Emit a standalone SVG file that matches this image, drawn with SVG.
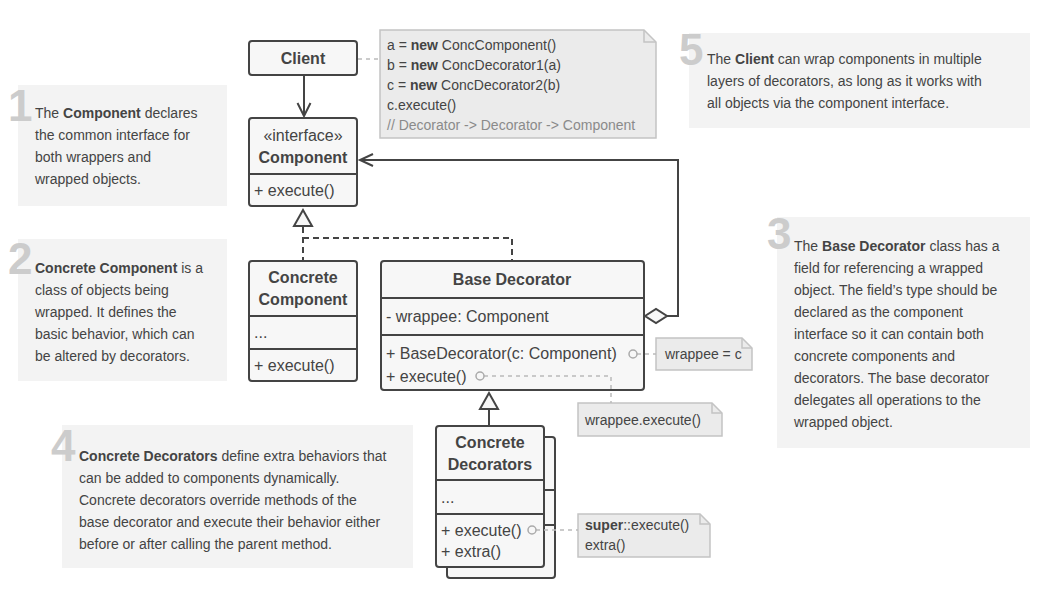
<svg xmlns="http://www.w3.org/2000/svg" width="1053" height="609" viewBox="0 0 1053 609">
<style>
text{font-family:"Liberation Sans",Arial,sans-serif;fill:#444}
.t{font-size:14px}
.u{font-size:16px}
.b{font-weight:bold}
.c{text-anchor:middle}
.num{font-size:44px;font-weight:bold;fill:#cccccc}
.panel{fill:#f3f3f3}
.box{fill:#f7f7f7;stroke:#444;stroke-width:2}
.ln{stroke:#444;stroke-width:2;fill:none}
.dash{stroke:#444;stroke-width:2;fill:none;stroke-dasharray:6 4}
.note{fill:#ebebeb;stroke:#c4c4c4;stroke-width:1.5}
.fold{fill:none;stroke:#c4c4c4;stroke-width:1.5}
.nd{stroke:#bbb;stroke-width:1.5;fill:none;stroke-dasharray:4 4}
.dot{fill:#f7f7f7;stroke:#aaa;stroke-width:1.5}
.code{font-size:14px;fill:#444}
</style>

<!-- explanation panels -->
<g id="panel1">
<rect class="panel" x="18" y="85" width="209" height="121"/>
<text class="num" x="8" y="121">1</text>
<text class="t" x="35" y="118">The <tspan class="b">Component</tspan> declares</text>
<text class="t" x="35" y="140">the common interface for</text>
<text class="t" x="35" y="162">both wrappers and</text>
<text class="t" x="35" y="184">wrapped objects.</text>
</g>
<g id="panel2">
<rect class="panel" x="18" y="239" width="209" height="142"/>
<text class="num" x="8" y="274">2</text>
<text class="t" x="35" y="273"><tspan class="b">Concrete Component</tspan> is a</text>
<text class="t" x="35" y="295">class of objects being</text>
<text class="t" x="35" y="317">wrapped. It defines the</text>
<text class="t" x="35" y="339">basic behavior, which can</text>
<text class="t" x="35" y="361">be altered by decorators.</text>
</g>
<g id="panel3">
<rect class="panel" x="777" y="217" width="253" height="231"/>
<text class="num" x="767" y="249">3</text>
<text class="t" x="794" y="251">The <tspan class="b">Base Decorator</tspan> class has a</text>
<text class="t" x="794" y="273">field for referencing a wrapped</text>
<text class="t" x="794" y="295">object. The field’s type should be</text>
<text class="t" x="794" y="317">declared as the component</text>
<text class="t" x="794" y="339">interface so it can contain both</text>
<text class="t" x="794" y="361">concrete components and</text>
<text class="t" x="794" y="383">decorators. The base decorator</text>
<text class="t" x="794" y="405">delegates all operations to the</text>
<text class="t" x="794" y="427">wrapped object.</text>
</g>
<g id="panel4">
<rect class="panel" x="62" y="425" width="351" height="143"/>
<text class="num" x="51" y="461">4</text>
<text class="t" x="79" y="461"><tspan class="b">Concrete Decorators</tspan> define extra behaviors that</text>
<text class="t" x="79" y="483">can be added to components dynamically.</text>
<text class="t" x="79" y="505">Concrete decorators override methods of the</text>
<text class="t" x="79" y="527">base decorator and execute their behavior either</text>
<text class="t" x="79" y="549">before or after calling the parent method.</text>
</g>
<g id="panel5">
<rect class="panel" x="689" y="33" width="341" height="95"/>
<text class="num" x="679" y="65">5</text>
<text class="t" x="707" y="64">The <tspan class="b">Client</tspan> can wrap components in multiple</text>
<text class="t" x="707" y="86">layers of decorators, as long as it works with</text>
<text class="t" x="707" y="108">all objects via the component interface.</text>
</g>

<!-- notes -->
<g id="note-code">
<path class="note" d="M380,30 H644 L656,42 V138 H380 Z"/>
<path class="fold" d="M644,30 V42 H656"/>
<text class="code" x="387" y="50">a = <tspan class="b">new</tspan> ConcComponent()</text>
<text class="code" x="387" y="70">b = <tspan class="b">new</tspan> ConcDecorator1(a)</text>
<text class="code" x="387" y="90">c = <tspan class="b">new</tspan> ConcDecorator2(b)</text>
<text class="code" x="387" y="110">c.execute()</text>
<text class="code" x="387" y="130" style="fill:#8a8a8a">// Decorator -&gt; Decorator -&gt; Component</text>
</g>
<g id="note-wrappee">
<path class="note" d="M656,338 H742 L752,348 V370 H656 Z"/>
<path class="fold" d="M742,338 V348 H752"/>
<text class="code" x="665" y="359">wrappee = c</text>
</g>
<g id="note-exec">
<path class="note" d="M578,403 H712 L722,413 V436 H578 Z"/>
<path class="fold" d="M712,403 V413 H722"/>
<text class="code" x="585" y="425">wrappee.execute()</text>
</g>
<g id="note-super">
<path class="note" d="M578,514 H700 L710,524 V557 H578 Z"/>
<path class="fold" d="M700,514 V524 H710"/>
<text class="code" x="585" y="530"><tspan class="b">super</tspan>::execute()</text>
<text class="code" x="585" y="550">extra()</text>
</g>

<!-- classes -->
<g id="client">
<rect class="box" x="249" y="41" width="108" height="34" rx="3"/>
<text class="u b c" x="303" y="64">Client</text>
</g>
<g id="component">
<rect class="box" x="249" y="118" width="108" height="88" rx="3"/>
<line class="ln" x1="249" y1="174" x2="357" y2="174"/>
<text class="u c" x="303" y="141">«interface»</text>
<text class="u b c" x="303" y="163">Component</text>
<text class="u" x="254" y="196">+ execute()</text>
</g>
<g id="concrete-component">
<rect class="box" x="249" y="261" width="108" height="120" rx="3"/>
<line class="ln" x1="249" y1="316" x2="357" y2="316"/>
<line class="ln" x1="249" y1="349" x2="357" y2="349"/>
<text class="u b c" x="303" y="283">Concrete</text>
<text class="u b c" x="303" y="305">Component</text>
<text class="u" x="254" y="338">...</text>
<text class="u" x="254" y="371">+ execute()</text>
</g>
<g id="base-decorator">
<rect class="box" x="381" y="261" width="263" height="129" rx="3"/>
<line class="ln" x1="381" y1="298" x2="644" y2="298"/>
<line class="ln" x1="381" y1="335" x2="644" y2="335"/>
<text class="u b c" x="512" y="285">Base Decorator</text>
<text class="u" x="386" y="322">- wrappee: Component</text>
<text class="u" x="386" y="359">+ BaseDecorator(c: Component)</text>
<text class="u" x="386" y="382">+ execute()</text>
</g>
<g id="concrete-decorators">
<rect class="box" x="447" y="437" width="108" height="141" rx="3"/>
<line class="ln" x1="447" y1="490" x2="555" y2="490"/>
<line class="ln" x1="447" y1="525" x2="555" y2="525"/>
<rect class="box" x="436" y="426" width="108" height="141" rx="3"/>
<line class="ln" x1="436" y1="480" x2="544" y2="480"/>
<line class="ln" x1="436" y1="514" x2="544" y2="514"/>
<text class="u b c" x="490" y="448">Concrete</text>
<text class="u b c" x="490" y="470">Decorators</text>
<text class="u" x="441" y="503">...</text>
<text class="u" x="441" y="536">+ execute()</text>
<text class="u" x="441" y="557">+ extra()</text>
</g>

<!-- connectors -->
<g id="connectors">
<line class="nd" x1="358" y1="59" x2="380" y2="59"/>
<line class="ln" x1="304" y1="76" x2="304" y2="116"/>
<polyline class="ln" points="297.5,103 304,116 310.5,103"/>
<polygon points="303,210 294,226 312,226" fill="#f7f7f7" stroke="#444" stroke-width="2"/>
<polyline class="dash" points="303,227 303,260"/>
<polyline class="dash" points="303,238 512,238 512,260"/>
<polyline class="ln" points="667,316 678,316 678,160 360,160"/>
<polyline class="ln" points="373,154 360,160 373,166"/>
<polygon points="645,316 656,309 667,316 656,323" fill="#f7f7f7" stroke="#444" stroke-width="2"/>
<line class="ln" x1="489" y1="409" x2="489" y2="425"/>
<polygon points="489,393 480,409 498,409" fill="#f7f7f7" stroke="#444" stroke-width="2"/>
<line class="nd" x1="637" y1="354" x2="656" y2="354"/>
<circle class="dot" cx="633" cy="354" r="4"/>
<polyline class="nd" points="484,376 611,376 611,403"/>
<circle class="dot" cx="480" cy="376" r="4"/>
<line class="nd" x1="536" y1="530" x2="578" y2="530"/>
<circle class="dot" cx="532" cy="530" r="4"/>
</g>
</svg>
